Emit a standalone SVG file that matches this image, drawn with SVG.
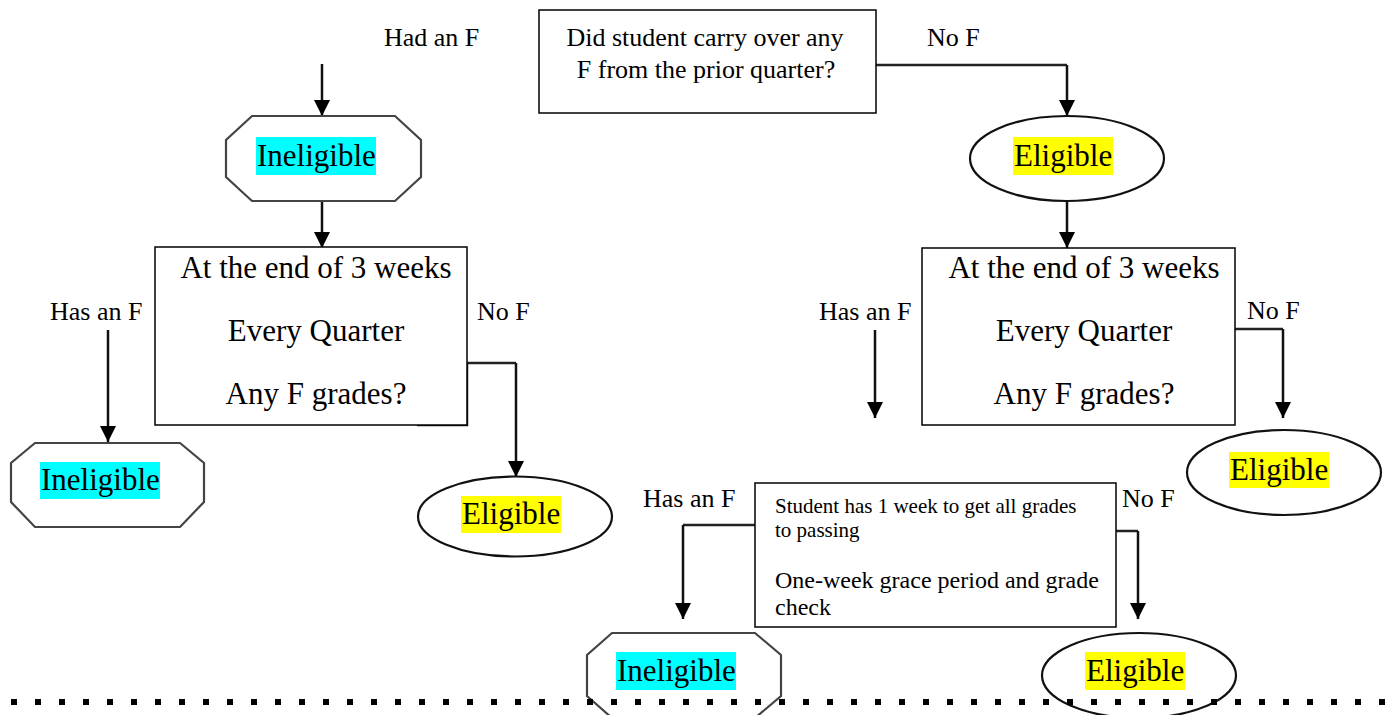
<svg xmlns="http://www.w3.org/2000/svg" width="1388" height="715" viewBox="0 0 1388 715">
<style>
text{font-family:"Liberation Serif","Times New Roman",serif;fill:#000}
.lbl{font-size:26px}
.big{font-size:31px}
.box{fill:#fff;stroke:#000;stroke-width:1.5}
.oct{fill:#fff;stroke:#444;stroke-width:2.2}
.ell{fill:#fff;stroke:#111;stroke-width:2.2}
.con{fill:none;stroke:#222;stroke-width:2.5}
.arr{fill:none;stroke:#111;stroke-width:2.5;marker-end:url(#ah)}
.hc{fill:#00ffff}
.hy{fill:#ffff00}
</style>
<defs>
<marker id="ah" markerUnits="userSpaceOnUse" markerWidth="16" markerHeight="16" viewBox="0 0 16 16" refX="16" refY="8" orient="auto">
<path d="M0,0 L16,8 L0,16 z" fill="#000"/>
</marker>
</defs>
<g id="connectors">
<line class="arr" x1="322" y1="64" x2="322" y2="116"/>
<line class="arr" x1="322" y1="201" x2="322" y2="248"/>
<path class="con" d="M417,425 H467 V363 H516"/>
<line class="arr" x1="516" y1="363" x2="516" y2="477"/>
<line class="arr" x1="108" y1="330" x2="108" y2="442"/>
<path class="con" d="M876,65 H1067"/>
<line class="arr" x1="1067" y1="65" x2="1067" y2="116"/>
<line class="arr" x1="1067" y1="201" x2="1067" y2="248"/>
<path class="con" d="M1235,329 H1283"/>
<line class="arr" x1="1283" y1="329" x2="1283" y2="418"/>
<line class="arr" x1="875" y1="330" x2="875" y2="418"/>
<path class="con" d="M755,525 H683"/>
<line class="arr" x1="683" y1="525" x2="683" y2="619"/>
<path class="con" d="M1116,531 H1138"/>
<line class="arr" x1="1138" y1="531" x2="1138" y2="619"/>
</g>
<g id="labels">
<text class="lbl" x="384" y="46">Had an F</text>
<text class="lbl" x="927" y="46">No F</text>
<text class="lbl" x="50" y="320">Has an F</text>
<text class="lbl" x="477" y="320">No F</text>
<text class="lbl" x="819" y="320">Has an F</text>
<text class="lbl" x="1247" y="319">No F</text>
<text class="lbl" x="643" y="507">Has an F</text>
<text class="lbl" x="1122" y="507">No F</text>
</g>
<g id="start">
<rect class="box" x="539" y="10" width="337" height="103"/>
<text x="705" y="46" font-size="26" text-anchor="middle">Did student carry over any</text>
<text x="706" y="78" font-size="26" text-anchor="middle">F from the prior quarter?</text>
</g>
<g id="inel1">
<polygon class="oct" points="252,116 395,116 421,140 421,177 395,201 252,201 226,177 226,140"/>
<rect class="hc" x="256" y="137" width="120" height="38"/>
<text class="big" x="257" y="166">Ineligible</text>
</g>
<g id="elig1">
<ellipse class="ell" cx="1067" cy="158.5" rx="97" ry="42.5"/>
<rect class="hy" x="1013" y="137" width="100" height="38"/>
<text class="big" x="1014" y="166">Eligible</text>
</g>
<g id="check1">
<rect class="box" x="155" y="247" width="312" height="178"/>
<text class="big" x="316" y="278" text-anchor="middle">At the end of 3 weeks</text>
<text class="big" x="316" y="341" text-anchor="middle">Every Quarter</text>
<text class="big" x="316" y="404" text-anchor="middle">Any F grades?</text>
</g>
<g id="check2">
<rect class="box" x="922" y="248" width="313" height="177"/>
<text class="big" x="1084" y="278" text-anchor="middle">At the end of 3 weeks</text>
<text class="big" x="1084" y="341" text-anchor="middle">Every Quarter</text>
<text class="big" x="1084" y="404" text-anchor="middle">Any F grades?</text>
</g>
<g id="inel2">
<polygon class="oct" points="35,443 180,443 204,463 204,502 180,527 35,527 11,502 11,463"/>
<rect class="hc" x="40" y="462" width="120" height="37"/>
<text class="big" x="41" y="490">Ineligible</text>
</g>
<g id="elig2">
<ellipse class="ell" cx="515" cy="516.5" rx="97" ry="40"/>
<rect class="hy" x="461" y="496" width="100" height="37"/>
<text class="big" x="462" y="524">Eligible</text>
</g>
<g id="elig3">
<ellipse class="ell" cx="1284" cy="472.5" rx="97" ry="42.5"/>
<rect class="hy" x="1229" y="452" width="100" height="36"/>
<text class="big" x="1230" y="480">Eligible</text>
</g>
<g id="grace">
<rect class="box" x="755" y="483" width="361" height="144"/>
<text x="775" y="513" font-size="21">Student has 1 week to get all grades</text>
<text x="775" y="537" font-size="21">to passing</text>
<text x="775" y="588" font-size="24">One-week grace period and grade</text>
<text x="775" y="615" font-size="24">check</text>
</g>
<g id="inel3">
<polygon class="oct" points="612,633 755,633 781,655 781,696 755,718 612,718 587,696 587,655"/>
<rect class="hc" x="616" y="652" width="120" height="38"/>
<text class="big" x="617" y="681">Ineligible</text>
</g>
<g id="elig4">
<ellipse class="ell" cx="1139" cy="675.5" rx="97" ry="42.5"/>
<rect class="hy" x="1085" y="652" width="100" height="38"/>
<text class="big" x="1086" y="681">Eligible</text>
</g>
<line x1="11" y1="702" x2="1388" y2="702" stroke="#000" stroke-width="6" stroke-dasharray="6 18"/>
</svg>
